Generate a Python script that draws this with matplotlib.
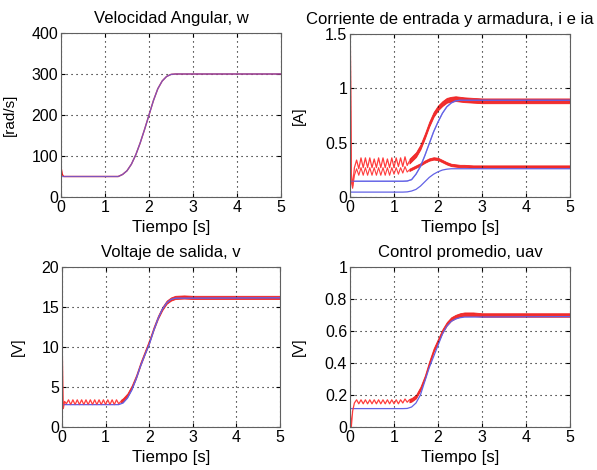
import matplotlib
matplotlib.use('Agg')
import matplotlib.pyplot as plt
import numpy as np

plt.rcParams['font.family'] = 'Liberation Sans'
plt.rcParams.update({'font.size': 10})

# time bases (s)
t_ref = [0, 1.2, 1.3, 1.4, 1.5, 1.6, 1.7, 1.8, 1.9, 2.0, 2.1, 2.2, 2.3, 2.4, 2.5, 2.6, 5.0]
t_spk = [0, 0.005, 0.03, 0.06]
t_rip = [0.10, 0.15, 0.20, 0.25, 0.30, 0.35, 0.40, 0.45, 0.50, 0.55, 0.60, 0.65, 0.70,
         0.75, 0.80, 0.85, 0.90, 0.95, 1.00, 1.05, 1.10, 1.15, 1.20, 1.25, 1.30, 1.35]
t_tr = [1.35, 1.4, 1.5, 1.6, 1.7, 1.8, 1.9, 2.0, 2.1, 2.2, 2.3, 2.4, 2.5, 2.6, 2.8, 3.0, 5.0]

# velocidad angular w [rad/s]
w_ref = [50, 50, 50, 55, 64, 80, 103, 132, 165, 200, 235, 264, 283, 294, 299, 300, 300]
w_spk = [0, 70, 55, 50]

# corrientes [A]
ia_ref = [0.145, 0.145, 0.147, 0.16, 0.21, 0.28, 0.38, 0.49, 0.60, 0.69, 0.77, 0.83, 0.865, 0.885, 0.89, 0.89, 0.89]
i_ref = [0.045, 0.045, 0.047, 0.055, 0.07, 0.10, 0.14, 0.18, 0.21, 0.232, 0.248, 0.256, 0.26, 0.26, 0.26, 0.26, 0.26]
ia_spk = [0, 1.6, 0.22, 0.10]
i_spk = [0, 1.6, 0.14, 0.08]
ia_rip = [0.27, 0.34, 0.26, 0.36, 0.27, 0.36, 0.27, 0.36, 0.27, 0.35, 0.27, 0.36, 0.27,
          0.36, 0.27, 0.35, 0.27, 0.36, 0.27, 0.36, 0.28, 0.36, 0.28, 0.37, 0.29, 0.33]
i_rip = [0.20, 0.26, 0.20, 0.27, 0.20, 0.27, 0.20, 0.27, 0.20, 0.27, 0.20, 0.27, 0.20,
         0.27, 0.20, 0.27, 0.20, 0.27, 0.21, 0.27, 0.21, 0.27, 0.22, 0.28, 0.23, 0.25]
ia_tr = [0.33, 0.35, 0.39, 0.46, 0.56, 0.67, 0.76, 0.82, 0.86, 0.89, 0.90, 0.905, 0.90, 0.895, 0.89, 0.885, 0.885]
i_tr = [0.25, 0.26, 0.28, 0.30, 0.325, 0.345, 0.355, 0.35, 0.33, 0.31, 0.295, 0.29, 0.285, 0.285, 0.28, 0.28, 0.28]

# voltaje de salida v [V]
v_ref = [2.8, 2.8, 2.8, 3.0, 3.6, 4.6, 6.0, 7.6, 9.0, 10.3, 12.0, 13.5, 14.7, 15.5, 15.95, 16.1, 16.15]
v_spk = [0, 10, 2.3, 3.2]
v_rip = [2.9, 3.4, 2.8, 3.4, 2.8, 3.4, 2.8, 3.4, 2.8, 3.4, 2.8, 3.4, 2.8,
         3.4, 2.8, 3.4, 2.8, 3.4, 2.8, 3.4, 2.8, 3.4, 2.8, 3.4, 2.9, 3.2]
v_tr = [3.2, 3.4, 4.0, 5.0, 6.3, 7.9, 9.3, 10.7, 12.3, 13.7, 14.8, 15.6, 16.0, 16.2, 16.25, 16.2, 16.2]

# control promedio uav
u_ref = [0.115, 0.115, 0.116, 0.125, 0.15, 0.20, 0.285, 0.37, 0.44, 0.51, 0.58, 0.63, 0.66, 0.675, 0.683, 0.687, 0.69]
u_spk = [0.38, 0.10, 0.0, 0.10]
u_rip = [0.15, 0.17, 0.145, 0.17, 0.145, 0.17, 0.145, 0.17, 0.145, 0.17, 0.145, 0.17, 0.145,
         0.17, 0.145, 0.17, 0.145, 0.17, 0.145, 0.17, 0.145, 0.17, 0.15, 0.175, 0.155, 0.17]
u_tr = [0.165, 0.17, 0.19, 0.24, 0.31, 0.40, 0.48, 0.54, 0.60, 0.645, 0.675, 0.69, 0.70, 0.705, 0.705, 0.70, 0.70]

RED = '#f01818'
RED_THIN = '#ff3c3c'
BLUE = '#6262e6'

fig = plt.figure(figsize=(5.97, 4.70), dpi=100)
W, H = 597.0, 470.0


def make_ax(l, t, r, b):
    return fig.add_axes([l / W, 1 - b / H, (r - l) / W, (b - t) / H])


def band(ax, t, y, half):
    # noisy measured signal drawn as a vertical band
    y = np.asarray(y)
    ax.fill_between(t, y - half, y + half, color=RED, alpha=0.9, lw=0.6, edgecolor=RED)


def style(ax, title, ylabel, ylim, yticks, ylab_x, title_x=0.5):
    ax.set_xlim(0, 5)
    ax.set_ylim(*ylim)
    ax.set_xticks([0, 1, 2, 3, 4, 5])
    ax.set_yticks(yticks)
    ax.set_title(title, pad=7, fontsize=12, x=title_x)
    ax.set_xlabel('Tiempo [s]', labelpad=4, fontsize=12.2)
    ax.set_ylabel(ylabel, fontsize=11)
    ax.yaxis.set_label_coords(ylab_x, 0.5)
    ax.grid(True, color='black', linestyle=(0, (1, 3.5)), linewidth=0.8)
    ax.tick_params(direction='in', top=True, right=True, length=3, labelsize=11.5, pad=2)
    for s in ax.spines.values():
        s.set_color('#606060')
        s.set_linewidth(0.8)


# Velocidad angular
ax1 = make_ax(61, 33, 281, 197)
ax1.plot(t_spk + t_ref[1:], w_spk + w_ref[1:], color=RED, lw=1.0)
ax1.plot(t_ref, w_ref, color=BLUE, lw=0.9, alpha=0.8)
style(ax1, 'Velocidad Angular, w', '[rad/s]', (0, 400), [0, 100, 200, 300, 400], -0.2)

# Corrientes
ax2 = make_ax(350, 34, 570, 197)
ax2.plot(t_ref, ia_ref, color=BLUE, lw=0.9)
ax2.plot(t_ref, i_ref, color=BLUE, lw=0.9)
ax2.plot(t_spk + t_rip, ia_spk + ia_rip, color=RED_THIN, lw=0.9)
ax2.plot(t_spk + t_rip, i_spk + i_rip, color=RED_THIN, lw=0.8)
band(ax2, t_tr, ia_tr, 0.022)
band(ax2, t_tr, i_tr, 0.011)
ax2.plot(t_ref, ia_ref, color=BLUE, lw=0.9, alpha=0.6)
style(ax2, 'Corriente de entrada y armadura, i e ia', '[A]', (0, 1.5), [0, 0.5, 1, 1.5], -0.2,
      title_x=0.455)
ax2.set_yticklabels(['0', '0.5', '1', '1.5'])

# Voltaje de salida
ax3 = make_ax(62, 267, 280, 427)
ax3.plot(t_ref, v_ref, color=BLUE, lw=0.9)
ax3.plot(t_spk + t_rip, v_spk + v_rip, color=RED_THIN, lw=0.9)
band(ax3, t_tr, v_tr, 0.2)
ax3.plot(t_ref, v_ref, color=BLUE, lw=0.8, alpha=0.4)
style(ax3, 'Voltaje de salida, v', '[V]', (0, 20), [0, 5, 10, 15, 20], -0.17)

# Control promedio
ax4 = make_ax(350, 267, 570, 427)
ax4.plot(t_ref, u_ref, color=BLUE, lw=0.9)
ax4.plot(t_spk + t_rip, u_spk + u_rip, color=RED_THIN, lw=0.9)
band(ax4, t_tr, u_tr, 0.011)
style(ax4, 'Control promedio, uav', '[V]', (0, 1), [0, 0.2, 0.4, 0.6, 0.8, 1], -0.2)
ax4.set_yticklabels(['0', '0.2', '0.4', '0.6', '0.8', '1'])

fig.savefig('out.png', dpi=100)
